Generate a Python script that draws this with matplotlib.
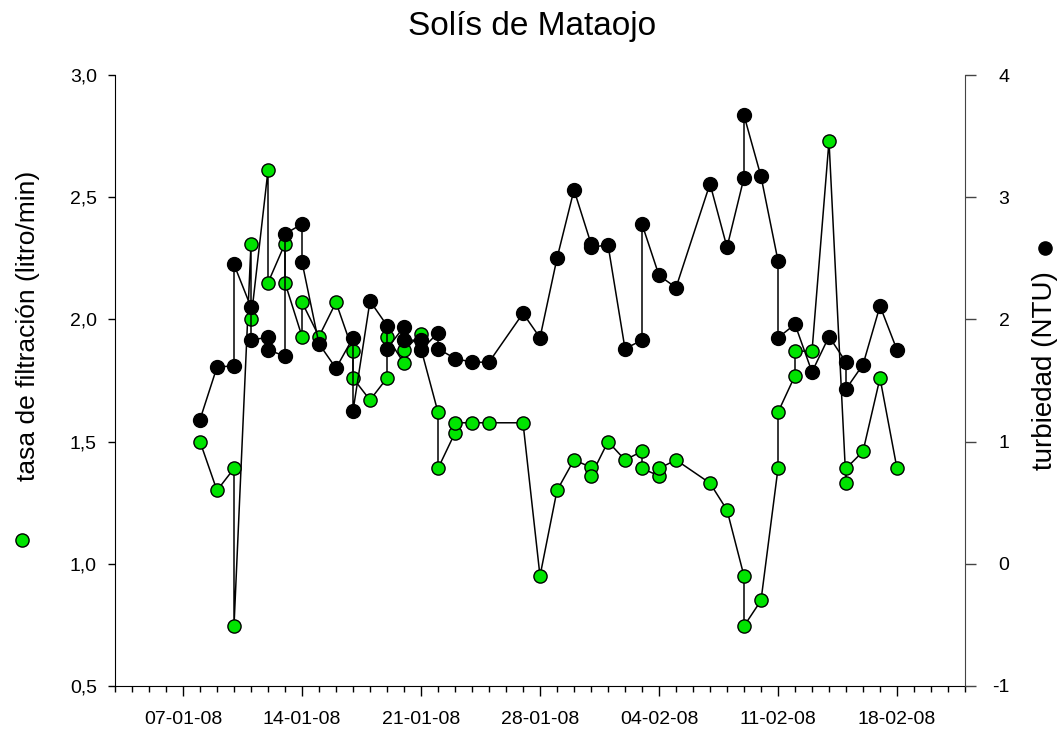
import matplotlib
matplotlib.use('Agg')
import matplotlib.pyplot as plt
import matplotlib.dates as mdates
from matplotlib.lines import Line2D
from matplotlib.ticker import FuncFormatter, MultipleLocator
import pandas as pd

plt.rcParams['font.family'] = ['Liberation Sans', 'DejaVu Sans']

# tasa de filtracion (eje izquierdo)
g_fechas = ['08-01', '09-01', '10-01', '10-01', '11-01', '11-01', '12-01', '12-01',
            '13-01', '13-01', '14-01', '14-01', '15-01', '16-01', '17-01', '17-01',
            '18-01', '19-01', '19-01', '20-01', '20-01', '21-01', '21-01', '22-01',
            '22-01', '23-01', '23-01', '24-01', '25-01', '27-01', '28-01', '29-01',
            '30-01', '31-01', '31-01', '01-02', '02-02', '03-02', '03-02', '04-02',
            '04-02', '05-02', '07-02', '08-02', '09-02', '09-02', '10-02', '11-02',
            '11-02', '12-02', '12-02', '13-02', '14-02', '15-02', '15-02', '16-02',
            '17-02', '18-02']
g_tasa = [1.50, 1.30, 1.39, 0.745, 2.31, 2.00, 2.61, 2.15,
          2.31, 2.15, 1.93, 2.07, 1.93, 2.07, 1.87, 1.76,
          1.67, 1.76, 1.93, 1.82, 1.875, 1.94, 1.88, 1.62,
          1.39, 1.536, 1.577, 1.577, 1.577, 1.577, 0.95, 1.30,
          1.425, 1.395, 1.36, 1.50, 1.425, 1.46, 1.39, 1.36,
          1.39, 1.425, 1.33, 1.22, 0.95, 0.745, 0.85, 1.39,
          1.62, 1.77, 1.87, 1.87, 2.73, 1.33, 1.39, 1.46,
          1.76, 1.39]

# turbiedad (eje derecho)
t_fechas = ['08-01', '09-01', '10-01', '10-01', '11-01', '11-01', '12-01', '12-01',
            '13-01', '13-01', '14-01', '14-01', '15-01', '16-01', '17-01', '17-01',
            '18-01', '19-01', '19-01', '20-01', '20-01', '21-01', '21-01', '22-01',
            '22-01', '23-01', '24-01', '25-01', '27-01', '28-01', '29-01', '30-01',
            '31-01', '31-01', '01-02', '02-02', '03-02', '03-02', '04-02', '05-02',
            '07-02', '08-02', '09-02', '09-02', '10-02', '11-02', '11-02', '12-02',
            '13-02', '14-02', '15-02', '15-02', '16-02', '17-02', '18-02']
t_ntu = [1.18, 1.61, 1.62, 2.45, 2.10, 1.83, 1.855, 1.75,
         1.70, 2.70, 2.78, 2.47, 1.80, 1.60, 1.85, 1.25,
         2.15, 1.95, 1.76, 1.94, 1.83, 1.83, 1.75, 1.89,
         1.76, 1.68, 1.65, 1.65, 2.05, 1.85, 2.50, 3.06,
         2.62, 2.59, 2.61, 1.76, 1.83, 2.78, 2.36, 2.26,
         3.11, 2.59, 3.16, 3.67, 3.17, 2.48, 1.85, 1.96,
         1.57, 1.86, 1.65, 1.43, 1.63, 2.11, 1.75]

gx = pd.to_datetime([f + '-2008' for f in g_fechas], format='%d-%m-%Y')
tx = pd.to_datetime([f + '-2008' for f in t_fechas], format='%d-%m-%Y')

verde = '#00e400'
W, H = 1062, 734
fig = plt.figure(figsize=(W / 100, H / 100), dpi=100)
ax = fig.add_axes([115 / W, 1 - 686 / H, 850 / W, 611 / H])

ax.plot(gx, g_tasa, '-', color='black', lw=1.1, marker='o', ms=9.5,
        mfc=verde, mec='black', mew=1.0)
ax.set_ylim(0.5, 3.0)
ax.set_xlim(pd.Timestamp('2008-01-03'), pd.Timestamp('2008-02-22'))
ax.yaxis.set_major_locator(MultipleLocator(0.5))
ax.yaxis.set_major_formatter(FuncFormatter(lambda v, p: ('%.1f' % v).replace('.', ',')))

ax.xaxis.set_major_locator(mdates.WeekdayLocator(byweekday=mdates.MO))
ax.xaxis.set_minor_locator(mdates.DayLocator())
ax.xaxis.set_major_formatter(mdates.DateFormatter('%d-%m-%y'))

ax2 = ax.twinx()
ax2.plot(tx, t_ntu, '-', color='black', lw=1.1, marker='o', ms=10,
         mfc='black', mec='black', mew=1.0)
ax2.set_ylim(-1, 4)
ax2.yaxis.set_major_locator(MultipleLocator(1))
ax2.yaxis.set_major_formatter(FuncFormatter(lambda v, p: '%d' % v))

for a in (ax, ax2):
    a.spines['top'].set_visible(False)
ax.spines['right'].set_visible(False)
ax2.spines['left'].set_visible(False)
ax2.spines['bottom'].set_visible(False)
ax2.spines['right'].set_color('#444444')

ax.tick_params(axis='y', direction='out', length=5, width=1, labelsize=14, pad=8)
ax.tick_params(axis='x', which='major', direction='out', length=7, width=1,
               labelsize=14, pad=11)
ax.tick_params(axis='x', which='minor', direction='out', length=4, width=1)
ax2.tick_params(axis='y', direction='out', length=8, width=1, labelsize=14,
                pad=24, color='#444444')
for lbl in ax2.get_yticklabels():
    lbl.set_ha('right')

fig.text(532.5 / W, 1 - 26 / H, 'Solís de Mataojo', ha='center', va='center',
         fontsize=24)

fig.text(28 / W, 1 - 326 / H, 'tasa de filtración (litro/min)', rotation=90,
         ha='center', va='center', fontsize=19)
fig.add_artist(Line2D([22 / W], [1 - 540 / H], transform=fig.transFigure,
                      marker='o', ms=9.5, mfc=verde, mec='black', mew=1.0))

fig.text(1045 / W, 1 - 371 / H, 'turbiedad (NTU)', rotation=90,
         ha='center', va='center', fontsize=20)
fig.add_artist(Line2D([1045 / W], [1 - 248 / H], transform=fig.transFigure,
                      marker='o', ms=9.5, mfc='black', mec='black', mew=1.0))

fig.savefig('out.png', dpi=100)
